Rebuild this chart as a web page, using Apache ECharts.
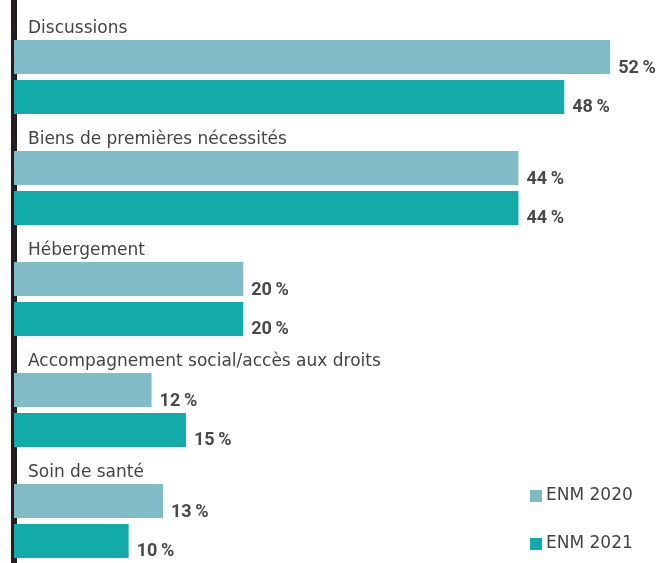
<!DOCTYPE html>
<html>
<head>
<meta charset="utf-8">
<script src="https://cdn.jsdelivr.net/npm/echarts@6/dist/echarts.min.js"></script>
<style>html,body{margin:0;padding:0;background:#fff}#c{width:660px;height:563px}</style>
</head>
<body>
<div id="c"></div>
<script>
const categories = ["Discussions", "Biens de premières nécessités", "Hébergement", "Accompagnement social/accès aux droits", "Soin de santé"];
const seriesNames = ["ENM 2020", "ENM 2021"];
const enm2020 = [52, 44, 20, 12, 13];
const enm2021 = [48, 44, 20, 15, 10];

const chart = echarts.init(document.getElementById('c'), null, {renderer: 'canvas'});
const valueLabel = {
  show: true, position: 'right', distance: 8, offset: [0, 11],
  formatter: p => p.value + '\u2009%',
  fontFamily: 'Roboto', fontWeight: 'bold', fontSize: 18, color: '#484848'
};
chart.setOption({
  animation: false,
  grid: [
    {left: 14, right: 4, top: 21.5, height: 555, outerBoundsMode: 'none', containLabel: false},
    {left: 14, right: 4, top: 0, bottom: 0, outerBoundsMode: 'none', containLabel: false}
  ],
  legend: {
    orient: 'vertical', left: 530, top: 487, padding: 0, itemWidth: 12, itemHeight: 12,
    itemGap: 30, icon: 'rect',
    textStyle: {fontFamily: 'DejaVu Sans', fontSize: 17, lineHeight: 18, color: '#444', padding: [0, 0, 0, -1]},
    data: seriesNames
  },
  xAxis: [
    {type: 'value', min: 0, max: 56, show: false, gridIndex: 0},
    {type: 'value', min: 0, max: 1, show: false, gridIndex: 1}
  ],
  yAxis: [
    {
      type: 'category', data: categories, inverse: true, gridIndex: 0,
      axisLine: {show: false},
      axisTick: {show: false},
      axisLabel: {
        inside: true, margin: 14, verticalAlign: 'bottom', padding: [0, 0, 40, 0],
        fontFamily: 'DejaVu Sans', fontSize: 17, color: '#444'
      }
    },
    {
      type: 'value', gridIndex: 1, offset: 4, min: 0, max: 1,
      axisLine: {show: true, lineStyle: {color: '#231f20', width: 6}},
      axisTick: {show: false}, axisLabel: {show: false}, splitLine: {show: false}
    }
  ],
  series: [
    {name: seriesNames[0], type: 'bar', data: enm2020, barWidth: 34, barGap: '17.6%',
     itemStyle: {color: '#80bcc7'}, label: valueLabel},
    {name: seriesNames[1], type: 'bar', data: enm2021, barWidth: 34, barGap: '17.6%',
     itemStyle: {color: '#13aaaa'}, label: valueLabel}
  ]
});
</script>
</body>
</html>
